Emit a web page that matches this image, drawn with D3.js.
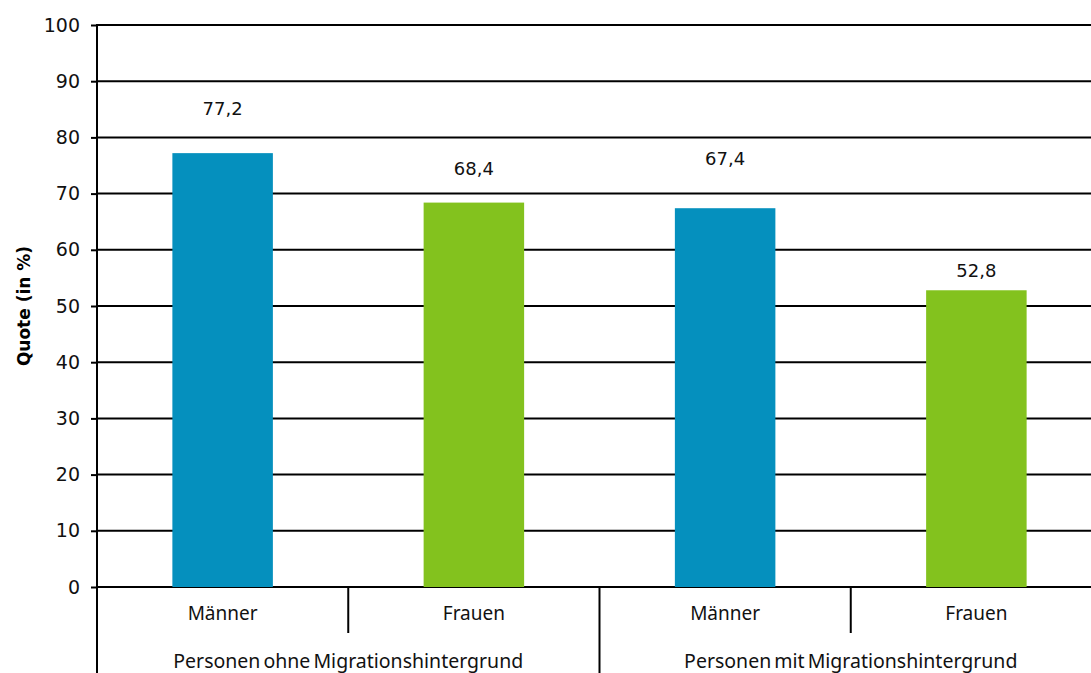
<!DOCTYPE html>
<html>
<head>
<meta charset="utf-8">
<script src="https://cdn.jsdelivr.net/npm/d3@7"></script>
<style>
  body { margin: 0; background: #fff; }
  svg { display: block; }
  .tick text { font-family: "DejaVu Sans", sans-serif; font-size: 19px; fill: #111; }
</style>
</head>
<body>
<div id="chart"></div>
<script>
// data
var groups = ["Personen ohne Migrationshintergrund", "Personen mit Migrationshintergrund"];
var genders = ["Männer", "Frauen"];
var values = [77.2, 68.4, 67.4, 52.8];
var labels = ["77,2", "68,4", "67,4", "52,8"];
var yTicks = [0, 10, 20, 30, 40, 50, 60, 70, 80, 90, 100];

// style
var colors = { "Männer": "#0590be", "Frauen": "#83c21e" };
var labelGap = [44, 34, 50, 20]; // gap between bar top and value label

var W = 1091, H = 673;
var svg = d3.select("#chart").append("svg")
    .attr("width", W)
    .attr("height", H);

var rows = [];
groups.forEach(function (g, gi) {
    genders.forEach(function (s, si) {
        var i = gi * genders.length + si;
        rows.push({ key: i, group: g, gender: s, value: values[i], label: labels[i] });
    });
});

var x = d3.scaleBand()
    .domain(rows.map(function (d) { return d.key; }))
    .range([97, 1102])
    .padding(0);

var y = d3.scaleLinear()
    .domain([0, 100])
    .range([587, 25]);

var barW = x.bandwidth() * 0.4;

// gridlines
svg.append("g")
    .selectAll("line")
    .data(yTicks)
    .enter().append("line")
    .attr("x1", 97)
    .attr("x2", W)
    .attr("y1", function (d) { return y(d); })
    .attr("y2", function (d) { return y(d); })
    .attr("stroke", "#000")
    .attr("stroke-width", 2);

// bars
svg.append("g")
    .selectAll("rect")
    .data(rows)
    .enter().append("rect")
    .attr("x", function (d) { return x(d.key) + (x.bandwidth() - barW) / 2; })
    .attr("y", function (d) { return y(d.value); })
    .attr("width", barW)
    .attr("height", function (d) { return y(0) - y(d.value); })
    .attr("fill", function (d) { return colors[d.gender]; });

// value labels
svg.append("g")
    .selectAll("text")
    .data(rows)
    .enter().append("text")
    .attr("x", function (d) { return x(d.key) + x.bandwidth() / 2; })
    .attr("y", function (d, i) { return y(d.value) - labelGap[i]; })
    .attr("dy", "0.35em")
    .attr("text-anchor", "middle")
    .style("font-family", "DejaVu Sans, sans-serif")
    .style("font-size", "18px")
    .style("fill", "#111")
    .text(function (d) { return d.label; });

// y axis
var yAxis = svg.append("g")
    .attr("transform", "translate(97,0)")
    .call(d3.axisLeft(y).tickValues(yTicks).tickSize(6).tickPadding(11).tickFormat(d3.format("d")));
yAxis.select(".domain").remove();
yAxis.selectAll(".tick line").attr("stroke", "#000").attr("stroke-width", 2);

svg.append("line")
    .attr("x1", 97).attr("x2", 97)
    .attr("y1", y(100) - 1).attr("y2", H)
    .attr("stroke", "#000")
    .attr("stroke-width", 2);

// category separators
svg.append("g")
    .selectAll("line")
    .data(rows.slice(1))
    .enter().append("line")
    .attr("x1", function (d) { return x(d.key); })
    .attr("x2", function (d) { return x(d.key); })
    .attr("y1", y(0))
    .attr("y2", function (d) { return d.key % genders.length === 0 ? H : 633; })
    .attr("stroke", "#000")
    .attr("stroke-width", 2);

// gender labels
svg.append("g")
    .selectAll("text")
    .data(rows)
    .enter().append("text")
    .attr("x", function (d) { return x(d.key) + x.bandwidth() / 2; })
    .attr("y", 613)
    .attr("dy", "0.35em")
    .attr("text-anchor", "middle")
    .style("font-family", "Noto Sans, sans-serif")
    .style("font-size", "19px")
    .style("fill", "#111")
    .text(function (d) { return d.gender; });

// group labels
svg.append("g")
    .selectAll("text")
    .data(groups)
    .enter().append("text")
    .attr("x", function (d, gi) {
        var a = x(gi * genders.length), b = x((gi + 1) * genders.length - 1) + x.bandwidth();
        return (a + b) / 2;
    })
    .attr("y", 661)
    .attr("dy", "0.35em")
    .attr("text-anchor", "middle")
    .style("font-family", "Noto Sans, sans-serif")
    .style("font-size", "19.5px")
    .style("word-spacing", "-2px")
    .style("fill", "#111")
    .text(function (d) { return d; });

// y title
svg.append("text")
    .attr("transform", "translate(30," + y(50) + ") rotate(-90)")
    .attr("text-anchor", "middle")
    .style("font-family", "DejaVu Sans, sans-serif")
    .style("font-weight", "bold")
    .style("font-size", "17px")
    .style("fill", "#000")
    .text("Quote (in %)");
</script>
</body>
</html>
